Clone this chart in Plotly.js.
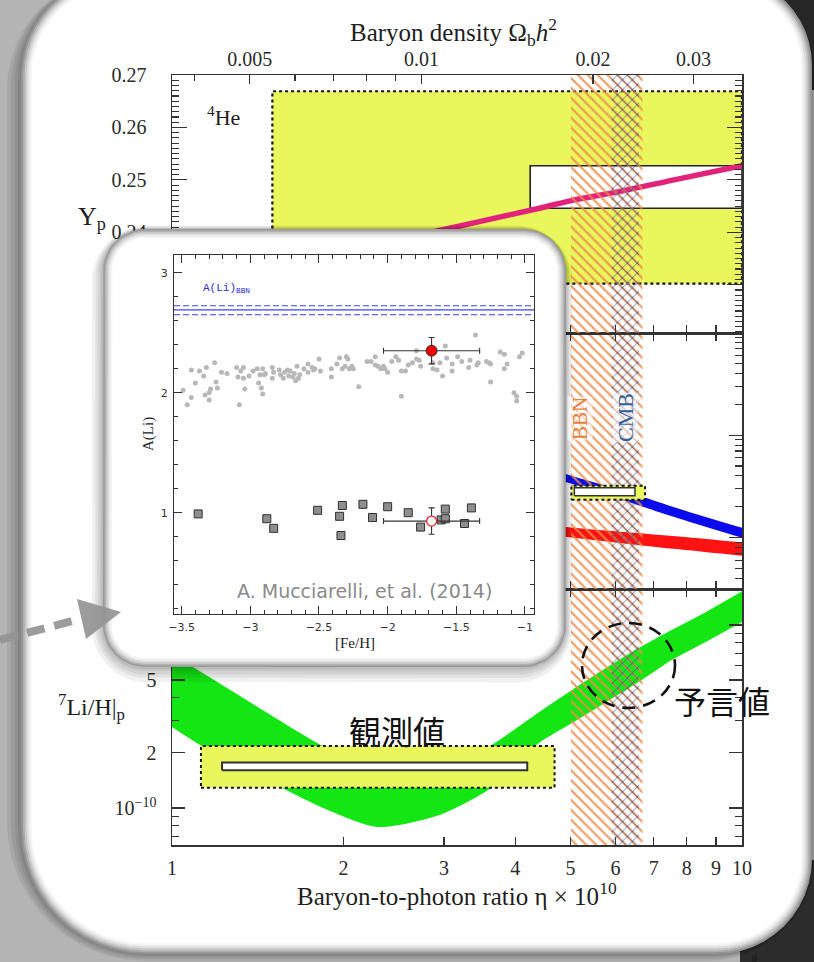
<!DOCTYPE html>
<html>
<head>
<meta charset="utf-8">
<script src="https://cdn.plot.ly/plotly-3.0.1.min.js"></script>
<style>
  html, body { margin: 0; padding: 0; background: #b4b4b4; }
  #chart { width: 814px; height: 962px; }
</style>
</head>
<body>
<div id="chart"></div>
<script>
// ---------------- data ----------------
// Baryon-to-photon ratio eta x 10^10 ticks and baryon density ticks
const etaTicks = [1, 2, 3, 4, 5, 6, 7, 8, 9, 10];
const omegaTicks = [0.005, 0.01, 0.02, 0.03];
const omegaMinor = [0.004, 0.006, 0.007, 0.008, 0.009];
const ETA_PER_OMEGA = 273.9;

// 4He mass fraction prediction
const heEta = [1.0, 2.0, 2.96, 4.41, 5.00, 6.17, 7.60, 10.0];
const heYp  = [0.2290, 0.2362, 0.2404, 0.2446, 0.2460, 0.2479, 0.2500, 0.2527];
// 4He observations: wide range and narrow box
const ypBoxEta = [1.50, 10.0];
const ypBox    = [0.2302, 0.2669];
const ypBarEta = [4.25, 10.0];
const ypBar    = [0.2446, 0.2527];

// D/H and 3He/H predictions (upper / lower edge of each band)
const dEta    = [1.0, 2.0, 3.5, 5.02, 6.60, 7.75, 10.0];
const dUpper  = [5.3e-4, 1.75e-4, 7.4e-5, 4.0e-5, 2.56e-5, 1.91e-5, 1.24e-5];
const dLower  = [4.4e-4, 1.45e-4, 6.2e-5, 3.34e-5, 2.05e-5, 1.53e-5, 0.99e-5];
const he3Eta   = [1.0, 2.0, 3.5, 5.02, 7.75, 10.0];
const he3Upper = [3.3e-5, 2.1e-5, 1.55e-5, 1.25e-5, 1.02e-5, 8.9e-6];
const he3Lower = [2.7e-5, 1.7e-5, 1.25e-5, 1.0e-5, 7.64e-6, 6.6e-6];
// D/H observation
const dBoxEta = [5.02, 6.76];
const dBox    = [2.34e-5, 3.2e-5];
const dBarEta = [5.08, 6.49];
const dBar    = [2.56e-5, 3.06e-5];

// 7Li/H prediction band
const liUpperEta = [1.0, 1.161, 1.84, 2.134, 2.61, 3.19, 3.61, 4.41, 5.04, 5.78, 6.60, 7.54, 8.65, 10.0];
const liUpper    = [6.9e-10, 5.21e-10, 2.18e-10, 1.79e-10, 1.66e-10, 1.83e-10, 2.18e-10, 3.35e-10, 4.43e-10, 5.84e-10, 7.51e-10, 9.42e-10, 1.18e-9, 1.53e-9];
const liLowerEta = [1.0, 1.12, 1.558, 1.876, 2.296, 2.948, 3.635, 4.00, 4.41, 5.04, 5.78, 6.60, 7.54, 8.65, 10.0];
const liLower    = [2.77e-10, 2.21e-10, 1.29e-10, 9.75e-11, 7.87e-11, 9.16e-11, 1.29e-10, 1.72e-10, 2.27e-10, 2.92e-10, 3.80e-10, 4.90e-10, 6.46e-10, 8.11e-10, 1.04e-9];
// 7Li/H observation
const liBoxEta = [1.124, 4.69];
const liBox    = [1.29e-10, 2.18e-10];
const liBarEta = [1.224, 4.20];
const liBar    = [1.61e-10, 1.77e-10];

// eta ranges favoured by BBN and by the CMB
const bbnEta = [5.01, 6.69];
const cmbEta = [5.91, 6.60];

// Inset: A(Li) versus [Fe/H]
const aLiBBN = 2.69;
const aLiBBNBand = [2.65, 2.725];
const fieldFeH = [-3.49,-3.46,-3.43,-3.43,-3.40,-3.37,-3.34,-3.33,-3.32,-3.30,-3.30,-3.29,-3.26,-3.25,-3.24,-3.21,-3.17,-3.10,-3.09,-3.08,
  -3.07,-3.05,-3.05,-3.04,-3.01,-2.98,-2.95,-2.94,-2.93,-2.92,-2.91,-2.91,-2.90,-2.89,-2.84,-2.84,-2.83,-2.79,-2.78,-2.76,
  -2.75,-2.73,-2.72,-2.71,-2.69,-2.68,-2.67,-2.66,-2.65,-2.64,-2.61,-2.58,-2.58,-2.55,-2.54,-2.53,-2.50,-2.49,-2.41,-2.41,
  -2.37,-2.35,-2.33,-2.31,-2.30,-2.29,-2.28,-2.26,-2.25,-2.21,-2.15,-2.12,-2.09,-2.09,-2.07,-2.05,-2.03,-2.02,-2.00,-1.97,
  -1.94,-1.92,-1.90,-1.90,-1.87,-1.85,-1.82,-1.79,-1.79,-1.77,-1.76,-1.67,-1.67,-1.64,-1.62,-1.60,-1.58,-1.57,-1.53,-1.53,
  -1.49,-1.46,-1.41,-1.40,-1.36,-1.35,-1.34,-1.28,-1.26,-1.25,-1.25,-1.18,-1.15,-1.15,-1.13,-1.08,-1.06,-1.06,-1.04,-1.02];
const fieldALi = [2.02,1.90,2.19,1.96,2.08,2.18,2.14,1.98,2.21,1.94,2.00,2.03,2.25,2.09,2.04,2.17,2.16,2.21,2.13,1.90,
  2.18,2.12,2.21,2.03,2.14,2.18,2.20,2.08,2.15,2.04,1.99,2.20,2.15,2.16,2.21,2.12,2.17,2.19,2.15,2.12,
  2.17,2.19,2.14,2.18,2.13,2.16,2.10,2.22,2.12,2.15,2.20,2.24,2.17,2.21,2.19,2.20,2.28,2.18,2.20,2.13,
  2.24,2.29,2.20,2.22,2.30,2.28,2.20,2.22,2.20,2.05,2.26,2.26,2.30,2.23,2.22,2.20,2.22,2.20,2.17,2.26,
  2.30,2.27,2.18,1.97,2.18,2.23,2.25,2.35,2.28,2.27,2.22,2.20,2.25,2.19,2.25,2.14,2.39,2.29,2.18,2.24,
  2.30,2.26,2.21,2.27,2.48,2.23,2.25,2.26,2.25,2.09,2.24,2.34,2.32,2.20,2.24,2.00,1.97,1.93,2.30,2.33];
const giantFeH = [-3.38,-2.88,-2.83,-2.51,-2.35,-2.33,-2.34,-2.18,-2.11,-2.00,-1.85,-1.76,-1.61,-1.58,-1.58,-1.44,-1.39];
const giantALi = [0.99,0.95,0.87,1.02,0.97,1.06,0.81,1.07,0.96,1.05,1.00,0.88,0.94,1.03,0.95,0.91,1.04];
const m4FeH = [-1.68];
const m4FeHErr = [0.35];
const m4DwarfALi = [2.35];
const m4GiantALi = [0.93];
const m4ALiErr = [0.11];

// ---------------- geometry helpers ----------------
const W = 814, H = 962;
const fx = p => p / W;
const fy = p => 1 - p / H;
const SERIF = 'Liberation Serif, Times New Roman, serif';
const INK = '#2a2a2a';

function rectPoly(xr, yr) {
  return { x: [xr[0], xr[1], xr[1], xr[0], xr[0]], y: [yr[0], yr[0], yr[1], yr[1], yr[0]] };
}
function roundPoly(x0, y0, x1, y1, r) {
  const R = Array.isArray(r) ? r : [r, r, r, r]; // tl, tr, br, bl
  const spec = [[x1 - R[1], y0 + R[1], R[1], -90, 0], [x1 - R[2], y1 - R[2], R[2], 0, 90],
                [x0 + R[3], y1 - R[3], R[3], 90, 180], [x0 + R[0], y0 + R[0], R[0], 180, 270]];
  const pts = [];
  for (const [cx, cy, rr, a0, a1] of spec) {
    for (let i = 0; i <= 12; i++) {
      const a = (a0 + (a1 - a0) * i / 12) * Math.PI / 180;
      pts.push([cx + rr * Math.cos(a), cy + rr * Math.sin(a)]);
    }
  }
  pts.push(pts[0]);
  return pts;
}
function paperPath(pts) {
  return 'M' + pts.map(p => (p[0] / W).toFixed(5) + ',' + (1 - p[1] / H).toFixed(5)).join('L') + 'Z';
}

// axis ranges
const xLogRange = [0, 1];
const liRange = [-10.2025, -8.803];
const dRange = [-5.505, -3.0];
const ypRange = [0.2208, 0.27];

// ---------------- traces ----------------
const traces = [];
const noHover = { hoverinfo: 'skip', showlegend: false };

function hatch(xa, ya, yLo, yHi) {
  const b = rectPoly(bbnEta, [yLo, yHi]);
  const c = rectPoly(cmbEta, [yLo, yHi]);
  return [
    Object.assign({ type: 'scatter', mode: 'lines', x: b.x, y: b.y, xaxis: xa, yaxis: ya, fill: 'toself',
      fillcolor: 'rgba(0,0,0,0)', line: { width: 0 },
      fillpattern: { shape: '\\', fgcolor: 'rgba(240,138,72,0.85)', bgcolor: 'rgba(0,0,0,0)', size: 7, solidity: 0.32 } }, noHover),
    Object.assign({ type: 'scatter', mode: 'lines', x: c.x, y: c.y, xaxis: xa, yaxis: ya, fill: 'toself',
      fillcolor: 'rgba(0,0,0,0)', line: { width: 0 },
      fillpattern: { shape: 'x', fgcolor: 'rgba(45,75,150,0.9)', bgcolor: 'rgba(0,0,0,0)', size: 7, solidity: 0.2 } }, noHover)
  ];
}
function box(xa, ya, xr, yr, fill, lineColor, dash, width) {
  const r = rectPoly(xr, yr);
  return Object.assign({ type: 'scatter', mode: 'lines', x: r.x, y: r.y, xaxis: xa, yaxis: ya, fill: 'toself',
    fillcolor: fill, line: { color: lineColor, width: width, dash: dash } }, noHover);
}
const YELLOW = '#e9f65c';

// bottom panel: 7Li/H
traces.push(Object.assign({ type: 'scatter', mode: 'lines', x: liLowerEta, y: liLower, xaxis: 'x', yaxis: 'y',
  line: { width: 0, shape: 'spline', smoothing: 0.7 } }, noHover));
traces.push(Object.assign({ type: 'scatter', mode: 'lines', x: liUpperEta, y: liUpper, xaxis: 'x', yaxis: 'y',
  line: { width: 0, shape: 'spline', smoothing: 0.7 }, fill: 'tonexty', fillcolor: '#14e614' }, noHover));
traces.push(box('x', 'y', liBoxEta, liBox, YELLOW, '#111', 'dot', 2));
traces.push(box('x', 'y', liBarEta, liBar, '#ffffff', '#333', 'solid', 2));
traces.push(...hatch('x', 'y', Math.pow(10, liRange[0] - 0.2), Math.pow(10, liRange[1] + 0.2)));

// middle panel: D/H and 3He/H
traces.push(Object.assign({ type: 'scatter', mode: 'lines', x: dEta, y: dLower, xaxis: 'x2', yaxis: 'y2',
  line: { width: 0, shape: 'spline' } }, noHover));
traces.push(Object.assign({ type: 'scatter', mode: 'lines', x: dEta, y: dUpper, xaxis: 'x2', yaxis: 'y2',
  line: { width: 0, shape: 'spline' }, fill: 'tonexty', fillcolor: '#0b0bec' }, noHover));
traces.push(Object.assign({ type: 'scatter', mode: 'lines', x: he3Eta, y: he3Lower, xaxis: 'x2', yaxis: 'y2',
  line: { width: 0, shape: 'spline' } }, noHover));
traces.push(Object.assign({ type: 'scatter', mode: 'lines', x: he3Eta, y: he3Upper, xaxis: 'x2', yaxis: 'y2',
  line: { width: 0, shape: 'spline' }, fill: 'tonexty', fillcolor: '#ff1212' }, noHover));
traces.push(...hatch('x2', 'y2', Math.pow(10, dRange[0] - 0.2), Math.pow(10, dRange[1] + 0.2)));
traces.push(box('x2', 'y2', dBoxEta, dBox, YELLOW, '#111', 'dot', 2));
traces.push(box('x2', 'y2', dBarEta, dBar, '#ffffff', '#333', 'solid', 1.5));

// top panel: 4He
traces.push(box('x3', 'y3', ypBoxEta, ypBox, YELLOW, '#111', 'dot', 2.2));
traces.push(box('x3', 'y3', ypBarEta, ypBar, '#ffffff', '#222', 'solid', 1.6));
traces.push(Object.assign({ type: 'scatter', mode: 'lines', x: heEta, y: heYp, xaxis: 'x3', yaxis: 'y3',
  line: { color: '#e2237c', width: 5.5, shape: 'spline' } }, noHover));
traces.push(...hatch('x3', 'y3', ypRange[0] - 0.01, ypRange[1] + 0.01));
// invisible carrier so the baryon-density axis on top is built
traces.push(Object.assign({ type: 'scatter', mode: 'markers', x: omegaTicks, y: omegaTicks.map(() => ypRange[1]),
  xaxis: 'x4', yaxis: 'y3', marker: { size: 1, opacity: 0 }, cliponaxis: true }, noHover));

// white card that holds the inset (drawn in pixel units)
const card = { x0: 103, y0: 229, x1: 566, y1: 667, r: 42 };
[14, 10, 7, 4, 2].forEach(k => {
  const p = roundPoly(card.x0 - k * 0.8, card.y0 - k * 0.25, card.x1 + k * 0.45, card.y1 + k * 1.1, card.r + k);
  traces.push(Object.assign({ type: 'scatter', mode: 'lines', x: p.map(q => q[0]), y: p.map(q => q[1]),
    xaxis: 'x5', yaxis: 'y5', fill: 'toself', fillcolor: 'rgba(0,0,0,0.06)', line: { width: 0 } }, noHover));
});
['#9a9a9a', '#b2b2b2', '#c9c9c9', '#dcdcdc', '#ebebeb', '#f6f6f6', '#ffffff'].forEach((c, i) => {
  const d = i * 1.5;
  const p = roundPoly(card.x0 + d, card.y0 + d, card.x1 - d, card.y1 - d, card.r - d);
  traces.push(Object.assign({ type: 'scatter', mode: 'lines', x: p.map(q => q[0]), y: p.map(q => q[1]),
    xaxis: 'x5', yaxis: 'y5', fill: 'toself', fillcolor: c, line: { width: 0 } }, noHover));
});

// inset plot
const insetX = [-3.556, -0.934];
const insetY = [0.156, 3.1475];
traces.push(Object.assign({ type: 'scatter', mode: 'lines', x: insetX, y: [aLiBBNBand[1], aLiBBNBand[1]], xaxis: 'x6', yaxis: 'y6',
  line: { color: '#3f3ff5', width: 1.1, dash: '6px,3px' } }, noHover));
traces.push(Object.assign({ type: 'scatter', mode: 'lines', x: insetX, y: [aLiBBN, aLiBBN], xaxis: 'x6', yaxis: 'y6',
  line: { color: '#3f3ff5', width: 1.2 } }, noHover));
traces.push(Object.assign({ type: 'scatter', mode: 'lines', x: insetX, y: [aLiBBNBand[0], aLiBBNBand[0]], xaxis: 'x6', yaxis: 'y6',
  line: { color: '#3f3ff5', width: 1.1, dash: '6px,3px' } }, noHover));
traces.push(Object.assign({ type: 'scatter', mode: 'markers', x: fieldFeH, y: fieldALi, xaxis: 'x6', yaxis: 'y6',
  marker: { size: 5, color: '#b8b8b8' } }, noHover));
traces.push(Object.assign({ type: 'scatter', mode: 'markers', x: giantFeH, y: giantALi, xaxis: 'x6', yaxis: 'y6',
  marker: { symbol: 'square', size: 8, color: '#8e8e8e', line: { color: '#303030', width: 1 } } }, noHover));
const errStyle = { type: 'data', color: '#333', thickness: 1.1, width: 3 };
traces.push(Object.assign({ type: 'scatter', mode: 'markers', x: m4FeH, y: m4DwarfALi, xaxis: 'x6', yaxis: 'y6',
  error_x: Object.assign({ array: m4FeHErr }, errStyle), error_y: Object.assign({ array: m4ALiErr }, errStyle),
  marker: { size: 11, color: '#ee0000', line: { color: '#333', width: 1 } } }, noHover));
traces.push(Object.assign({ type: 'scatter', mode: 'markers', x: m4FeH, y: m4GiantALi, xaxis: 'x6', yaxis: 'y6',
  error_x: Object.assign({ array: m4FeHErr }, errStyle), error_y: Object.assign({ array: m4ALiErr }, errStyle),
  marker: { size: 10, color: '#ffffff', line: { color: '#ee2222', width: 1.3 } } }, noHover));

// ---------------- axes ----------------
const mainDomainX = [fx(172), fx(742)];
const tickFont = { family: SERIF, size: 20, color: INK };
function etaAxis(anchor, labels, mirror) {
  return {
    domain: mainDomainX, anchor: anchor, type: 'log', range: xLogRange,
    tickmode: 'array', tickvals: etaTicks, ticktext: etaTicks.map(String),
    showticklabels: labels, ticks: 'inside', ticklen: 8, tickwidth: 1.2, tickcolor: '#333',
    showline: true, linecolor: '#333', linewidth: 1.5, mirror: mirror,
    showgrid: false, zeroline: false, tickfont: tickFont, ticklabelstandoff: 4, fixedrange: true
  };
}
function digitTicks(lo, hi) {
  const v = [];
  for (let e = lo; e <= hi; e++) for (let d = 2; d <= 9; d++) v.push(d * Math.pow(10, e));
  return v;
}

const layout = {
  width: W, height: H,
  margin: { l: 0, r: 0, t: 0, b: 0 },
  paper_bgcolor: '#b4b4b4',
  plot_bgcolor: 'rgba(0,0,0,0)',
  showlegend: false,
  hovermode: false,
  xaxis: etaAxis('y', true, 'ticks'),
  xaxis2: etaAxis('y2', false, 'ticks'),
  xaxis3: etaAxis('y3', false, false),
  xaxis4: {
    overlaying: 'x3', anchor: 'y3', side: 'top', type: 'log',
    range: [Math.log10(1 / ETA_PER_OMEGA), Math.log10(10 / ETA_PER_OMEGA)],
    tickmode: 'array', tickvals: omegaTicks, ticktext: omegaTicks.map(String),
    ticks: 'inside', ticklen: 9, tickwidth: 1.2, tickcolor: '#333',
    minor: { tickmode: 'array', tickvals: omegaMinor, ticks: 'inside', ticklen: 6, tickwidth: 1.1, tickcolor: '#333' },
    showline: true, linecolor: '#333', linewidth: 1.5, showgrid: false, zeroline: false,
    tickfont: tickFont, ticklabelstandoff: 0, fixedrange: true
  },
  yaxis: {
    domain: [fy(845), fy(589)], anchor: 'x', type: 'log', range: liRange,
    tickmode: 'array', tickvals: [1e-10, 2e-10, 5e-10, 1e-9],
    ticktext: ['10<sup>\u221210</sup>', '2', '5', '10<sup>\u22129</sup>'],
    ticks: 'inside', ticklen: 13, tickwidth: 1.2, tickcolor: '#333',
    minor: { tickmode: 'array', tickvals: [6e-11, 7e-11, 8e-11, 9e-11, 3e-10, 4e-10, 6e-10, 7e-10, 8e-10, 9e-10],
      ticks: 'inside', ticklen: 7, tickwidth: 1.1, tickcolor: '#333' },
    showline: true, linecolor: '#333', linewidth: 1.5, mirror: 'ticks',
    showgrid: false, zeroline: false, tickfont: tickFont, ticklabelstandoff: 10, fixedrange: true
  },
  yaxis2: {
    domain: [fy(589), fy(333)], anchor: 'x2', type: 'log', range: dRange,
    tickmode: 'array', tickvals: [1e-5, 1e-4, 1e-3],
    ticktext: ['10<sup>\u22125</sup>', '10<sup>\u22124</sup>', '10<sup>\u22123</sup>'],
    ticks: 'inside', ticklen: 13, tickwidth: 1.2, tickcolor: '#333',
    minor: { tickmode: 'array', tickvals: digitTicks(-6, -4), ticks: 'inside', ticklen: 7, tickwidth: 1.1, tickcolor: '#333' },
    showline: true, linecolor: '#333', linewidth: 1.5, mirror: 'ticks',
    showgrid: false, zeroline: false, tickfont: tickFont, ticklabelstandoff: 10, fixedrange: true
  },
  yaxis3: {
    domain: [fy(333), fy(75)], anchor: 'x3', range: ypRange,
    tick0: 0, dtick: 0.01, tickformat: '.2f',
    ticks: 'inside', ticklen: 15, tickwidth: 1.2, tickcolor: '#333',
    minor: { dtick: 0.001, ticks: 'inside', ticklen: 7, tickwidth: 1.1, tickcolor: '#333' },
    showline: true, linecolor: '#333', linewidth: 1.5, mirror: 'ticks',
    showgrid: false, zeroline: false, tickfont: tickFont, ticklabelstandoff: 20, fixedrange: true
  },
  // card layer in pixel units
  xaxis5: { domain: [fx(80), fx(590)], anchor: 'y5', range: [80, 590], visible: false, fixedrange: true },
  yaxis5: { domain: [fy(700), fy(212)], anchor: 'x5', range: [700, 212], visible: false, fixedrange: true },
  // inset axes
  xaxis6: {
    domain: [fx(174), fx(534)], anchor: 'y6', range: insetX,
    tick0: 0, dtick: 0.5, ticks: 'inside', ticklen: 8, tickwidth: 1, tickcolor: '#333',
    minor: { dtick: 0.1, ticks: 'inside', ticklen: 4, tickwidth: 1, tickcolor: '#333' },
    showline: true, linecolor: '#333', linewidth: 1, mirror: 'ticks',
    showgrid: false, zeroline: false,
    tickfont: { family: 'DejaVu Sans, sans-serif', size: 11, color: '#333' }, ticklabelstandoff: 3, fixedrange: true
  },
  yaxis6: {
    domain: [fy(614), fy(255)], anchor: 'x6', range: insetY,
    tick0: 0, dtick: 1, ticks: 'inside', ticklen: 8, tickwidth: 1, tickcolor: '#333',
    minor: { dtick: 0.2, ticks: 'inside', ticklen: 4, tickwidth: 1, tickcolor: '#333' },
    showline: true, linecolor: '#333', linewidth: 1, mirror: 'ticks',
    showgrid: false, zeroline: false,
    tickfont: { family: 'DejaVu Sans, sans-serif', size: 11, color: '#333' }, ticklabelstandoff: 3, fixedrange: true
  }
};

// ---------------- background card and decorations ----------------
const shapes = [];
shapes.push({ type: 'rect', xref: 'paper', yref: 'paper', x0: fx(760), x1: 1, y0: fy(90), y1: 1,
  fillcolor: '#262626', line: { width: 0 }, layer: 'below' });
shapes.push({ type: 'rect', xref: 'paper', yref: 'paper', x0: fx(740), x1: 1, y0: 0, y1: fy(860),
  fillcolor: '#2c2c2c', line: { width: 0 }, layer: 'below' });
const big = { x0: 21, y0: -25, x1: 812, y1: 954, r: [100, 90, 95, 125] };
[14, 10, 6, 3].forEach(k => {
  const p = roundPoly(big.x0 - k, big.y0, big.x1 + k * 0.3, big.y1 + k * 0.5, big.r.map(v => v + k));
  shapes.push({ type: 'path', xref: 'paper', yref: 'paper', path: paperPath(p),
    fillcolor: 'rgba(0,0,0,0.07)', line: { width: 0 }, layer: 'below' });
});
['#939393', '#acacac', '#c6c6c6', '#dbdbdb', '#ececec', '#f7f7f7', '#ffffff'].forEach((c, i) => {
  const d = i * 1.8;
  const p = roundPoly(big.x0 + d, big.y0 + d, big.x1 - d, big.y1 - d, big.r.map(v => v - d));
  shapes.push({ type: 'path', xref: 'paper', yref: 'paper', path: paperPath(p),
    fillcolor: c, line: { width: 0 }, layer: 'below' });
});
shapes.push({ type: 'rect', xref: 'paper', yref: 'paper', x0: fx(752), x1: fx(757), y0: 0, y1: fy(955),
  fillcolor: '#222', line: { width: 0 }, layer: 'below' });

// dashed arrow pointing at the inset
shapes.push({ type: 'line', xref: 'paper', yref: 'paper', x0: fx(0), y0: fy(640), x1: fx(80), y1: fy(619),
  line: { color: 'rgba(148,148,148,0.92)', width: 8, dash: '18px,10px' }, layer: 'above' });
shapes.push({ type: 'path', xref: 'paper', yref: 'paper',
  path: paperPath([[77, 599], [121, 612], [86, 639], [77, 599]]),
  fillcolor: 'rgba(148,148,148,0.92)', line: { width: 0 }, layer: 'above' });
// dashed circle around the predicted value
shapes.push({ type: 'circle', xref: 'paper', yref: 'paper', x0: fx(582), x1: fx(675), y0: fy(708), y1: fy(623),
  line: { color: '#111', width: 2.6, dash: '13px,8px' }, layer: 'above' });
layout.shapes = shapes;

// ---------------- text ----------------
function note(text, x, y, size, opts) {
  return Object.assign({ text: text, xref: 'paper', yref: 'paper', x: fx(x), y: fy(y),
    showarrow: false, xanchor: 'center', yanchor: 'middle',
    font: { family: SERIF, size: size, color: '#1e1e1e' } }, opts || {});
}
layout.annotations = [
  note('Baryon density \u03A9<sub>b</sub><i>h</i><sup>2</sup>', 453, 32, 25),
  note('Baryon-to-photon ratio \u03B7 \u00D7 10<sup>10</sup>', 457, 894, 25),
  note('Y<sub>p</sub>', 92, 218, 26),
  note('<sup>4</sup>He', 223, 116, 22),
  note('<sup>7</sup>Li/H|<sub>p</sub>', 91, 707, 24),
  note('BBN', 580, 419, 21, { textangle: -90, bgcolor: 'rgba(255,255,255,0.6)', borderpad: 0,
    font: { family: SERIF, size: 21, color: '#e4813f' } }),
  note('CMB', 626, 418, 22, { textangle: -90, bgcolor: 'rgba(255,255,255,0.6)', borderpad: 0,
    font: { family: SERIF, size: 22, color: '#35609c' } }),
  note('観測値', 397, 730, 32, { font: { family: 'Noto Sans CJK JP, sans-serif', size: 32, color: '#111' } }),
  note('予言値', 722, 700, 32, { font: { family: 'Noto Sans CJK JP, sans-serif', size: 32, color: '#111' } }),
  note('A. Mucciarelli, et al. (2014)', 364, 591, 19, { font: { family: 'DejaVu Sans, Verdana, sans-serif', size: 19, color: '#8a8a8a' } }),
  note('[Fe/H]', 355, 643, 15, { font: { family: SERIF, size: 15, color: '#222' } }),
  note('A(Li)', 149, 434, 15, { textangle: -90, font: { family: SERIF, size: 15, color: '#222' } }),
  { text: 'A(Li)<sub>BBN</sub>', xref: 'x6', yref: 'y6', x: -3.36, y: 2.87, xanchor: 'left', yanchor: 'middle',
    showarrow: false, font: { family: 'Liberation Mono, monospace', size: 11, color: '#2a2af0' } }
];

Plotly.newPlot('chart', traces, layout, { displayModeBar: false, staticPlot: true });
</script>
</body>
</html>
